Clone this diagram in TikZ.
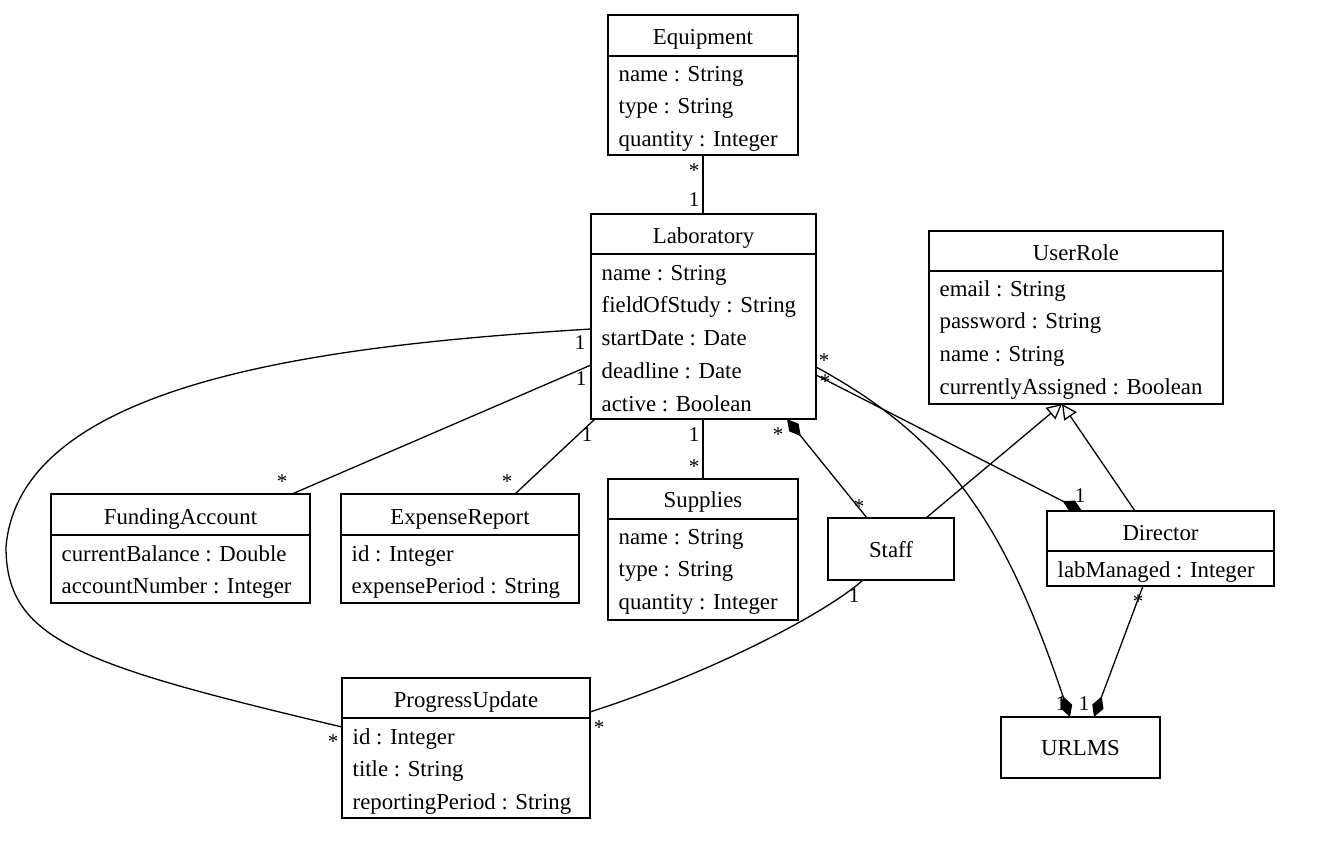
\documentclass[tikz,border=0pt]{standalone}
\usepackage{fontspec}
\setmainfont{Liberation Serif}
\usetikzlibrary{arrows.meta}
\begin{document}
\begin{tikzpicture}[x=1pt,y=-1pt,
 cls/.style={draw, line width=1.3pt, anchor=north west, inner sep=0pt, outer sep=0pt},
 ttl/.style={font=\fontsize{22.8}{27}\selectfont, inner sep=0pt, anchor=mid, yshift=-6pt},
 att/.style={font=\fontsize{22.8}{27}\selectfont, inner sep=0pt, anchor=mid west, yshift=-6pt},
 mult/.style={font=\fontsize{21}{25}\selectfont, inner sep=0pt, anchor=base},
 conn/.style={line width=1.3pt},
 comp/.style={-{Diamond[length=22pt,width=12pt]}},
 compS/.style={{Diamond[length=22pt,width=12pt]}-},
 gen/.style={-{Triangle[open,length=15pt,width=15pt]}}]
\useasboundingbox (0,0) rectangle (1320,866);

% ---------- Equipment
\node[cls, minimum width=190pt, minimum height=140pt] (eq) at (608,15) {};
\draw[conn] ([yshift=-41pt]eq.north west) -- ([yshift=-41pt]eq.north east);
\node[ttl] (eqT) at ([yshift=-21pt]eq.north) {Equipment};
\node[att] (eqA1) at ([xshift=10.5pt,yshift=-58pt]eq.north west) {name : String};
\node[att] (eqA2) at ([xshift=10.5pt,yshift=-90.7pt]eq.north west) {type : String};
\node[att] (eqA3) at ([xshift=10.5pt,yshift=-123.4pt]eq.north west) {quantity : Integer};

% ---------- Laboratory
\node[cls, minimum width=225pt, minimum height=205pt] (lab) at (591,214) {};
\draw[conn] ([yshift=-40pt]lab.north west) -- ([yshift=-40pt]lab.north east);
\node[ttl] (labT) at ([yshift=-21pt]lab.north) {Laboratory};
\node[att] (labA1) at ([xshift=10.5pt,yshift=-58pt]lab.north west) {name : String};
\node[att] (labA2) at ([xshift=10.5pt,yshift=-90.7pt]lab.north west) {fieldOfStudy : String};
\node[att] (labA3) at ([xshift=10.5pt,yshift=-123.4pt]lab.north west) {startDate : Date};
\node[att] (labA4) at ([xshift=10.5pt,yshift=-156.1pt]lab.north west) {deadline : Date};
\node[att] (labA5) at ([xshift=10.5pt,yshift=-188.8pt]lab.north west) {active : Boolean};

% ---------- UserRole
\node[cls, minimum width=294pt, minimum height=173pt] (ur) at (929,231) {};
\draw[conn] ([yshift=-40pt]ur.north west) -- ([yshift=-40pt]ur.north east);
\node[ttl] (urT) at ([yshift=-21pt]ur.north) {UserRole};
\node[att] (urA1) at ([xshift=10.5pt,yshift=-57pt]ur.north west) {email : String};
\node[att] (urA2) at ([xshift=10.5pt,yshift=-89.7pt]ur.north west) {password : String};
\node[att] (urA3) at ([xshift=10.5pt,yshift=-122.4pt]ur.north west) {name : String};
\node[att] (urA4) at ([xshift=10.5pt,yshift=-155.1pt]ur.north west) {currentlyAssigned : Boolean};

% ---------- FundingAccount
\node[cls, minimum width=259pt, minimum height=109pt] (fa) at (51,494) {};
\draw[conn] ([yshift=-41pt]fa.north west) -- ([yshift=-41pt]fa.north east);
\node[ttl] (faT) at ([yshift=-22pt]fa.north) {FundingAccount};
\node[att] (faA1) at ([xshift=10.5pt,yshift=-59pt]fa.north west) {currentBalance : Double};
\node[att] (faA2) at ([xshift=10.5pt,yshift=-91.7pt]fa.north west) {accountNumber : Integer};

% ---------- ExpenseReport
\node[cls, minimum width=238pt, minimum height=109pt] (er) at (341,494) {};
\draw[conn] ([yshift=-41pt]er.north west) -- ([yshift=-41pt]er.north east);
\node[ttl] (erT) at ([yshift=-22pt]er.north) {ExpenseReport};
\node[att] (erA1) at ([xshift=10.5pt,yshift=-59pt]er.north west) {id : Integer};
\node[att] (erA2) at ([xshift=10.5pt,yshift=-91.7pt]er.north west) {expensePeriod : String};

% ---------- Supplies
\node[cls, minimum width=190pt, minimum height=141pt] (sup) at (608,479) {};
\draw[conn] ([yshift=-40pt]sup.north west) -- ([yshift=-40pt]sup.north east);
\node[ttl] (supT) at ([yshift=-20.5pt]sup.north) {Supplies};
\node[att] (supA1) at ([xshift=10.5pt,yshift=-57pt]sup.north west) {name : String};
\node[att] (supA2) at ([xshift=10.5pt,yshift=-89.7pt]sup.north west) {type : String};
\node[att] (supA3) at ([xshift=10.5pt,yshift=-122.4pt]sup.north west) {quantity : Integer};

% ---------- Staff
\node[cls, minimum width=126pt, minimum height=62pt] (staff) at (828,518) {};
\node[ttl] (staffT) at (staff.center) {Staff};

% ---------- Director
\node[cls, minimum width=227pt, minimum height=75pt] (dir) at (1047,511) {};
\draw[conn] ([yshift=-40pt]dir.north west) -- ([yshift=-40pt]dir.north east);
\node[ttl] (dirT) at ([yshift=-21pt]dir.north) {Director};
\node[att] (dirA1) at ([xshift=10.5pt,yshift=-58pt]dir.north west) {labManaged : Integer};

% ---------- ProgressUpdate
\node[cls, minimum width=248pt, minimum height=140pt] (pu) at (342,678) {};
\draw[conn] ([yshift=-40pt]pu.north west) -- ([yshift=-40pt]pu.north east);
\node[ttl] (puT) at ([yshift=-21pt]pu.north) {ProgressUpdate};
\node[att] (puA1) at ([xshift=10.5pt,yshift=-58pt]pu.north west) {id : Integer};
\node[att] (puA2) at ([xshift=10.5pt,yshift=-90.7pt]pu.north west) {title : String};
\node[att] (puA3) at ([xshift=10.5pt,yshift=-123.4pt]pu.north west) {reportingPeriod : String};

% ---------- URLMS
\node[cls, minimum width=159pt, minimum height=61pt] (urlms) at (1001,717) {};
\node[ttl] (urlmsT) at (urlms.center) {URLMS};

% ================= connectors
% Equipment - Laboratory
\draw[conn] (eq.south) -- (eq.south |- lab.north);
\node[mult] (m1) at (694,178) {*};
\node[mult] (m2) at (694,207) {1};

% Laboratory - Supplies
\draw[conn] (sup.north |- lab.south) -- (sup.north);
\node[mult] (m3) at (694,442) {1};
\node[mult] (m4) at (694,473) {*};

% Laboratory - FundingAccount
\draw[conn] ([yshift=-48.5pt]lab.west) -- ([xshift=111.5pt]fa.north);
\node[mult] (m5) at (581,386) {1};
\node[mult] (m6) at (282,488) {*};

% Laboratory - ExpenseReport
\draw[conn] ([xshift=4pt]lab.south west) -- ([xshift=55pt]er.north);
\node[mult] (m7) at (587,442) {1};
\node[mult] (m8) at (507,488) {*};

% Laboratory - ProgressUpdate
\draw[conn] ([yshift=-12.5pt]lab.west) .. controls (330,345) and (20,380) .. (6,547)
   .. controls (6,640) and (80,665) .. ([yshift=21pt]pu.west);
\node[mult] (m9) at (580,350) {1};
\node[mult] (m10) at (333,748) {*};

% Staff - ProgressUpdate
\draw[conn] ([xshift=-28pt]staff.south) .. controls (830,610) and (720,670) .. ([yshift=36pt]pu.east);
\node[mult] (m11) at (854,602) {1};
\node[mult] (m12) at (599,734) {*};

% Laboratory <>- Staff
\draw[conn, compS] ([xshift=83.5pt]lab.south) -- ([xshift=-24pt]staff.north);
\node[mult] (m13) at (778,442) {*};
\node[mult] (m14) at (859,513) {*};

% Laboratory - Director
\draw[conn, comp] ([yshift=-58.5pt]lab.east) -- ([xshift=-78.5pt]dir.north);
\node[mult] (m15) at (825,389) {*};
\node[mult] (m16) at (1080,502) {1};

% Laboratory - URLMS
\draw[conn, comp] ([yshift=-50.5pt]lab.east) .. controls (950,440) and (1005,525) .. ([xshift=-10.5pt]urlms.north);
\node[mult] (m17) at (824,368) {*};
\node[mult] (m18) at (1061,710) {1};

% Director - URLMS
\draw[conn, comp] ([xshift=-17.5pt]dir.south) -- ([xshift=13.5pt]urlms.north);
\node[mult] (m19) at (1138,608) {*};
\node[mult] (m20) at (1084,710) {1};

% Generalizations
\draw[conn, gen] ([xshift=35pt]staff.north) -- ([xshift=-14pt]ur.south);
\draw[conn, gen] ([xshift=-25.5pt]dir.north) -- ([xshift=-14pt]ur.south);
\end{tikzpicture}
\end{document}
